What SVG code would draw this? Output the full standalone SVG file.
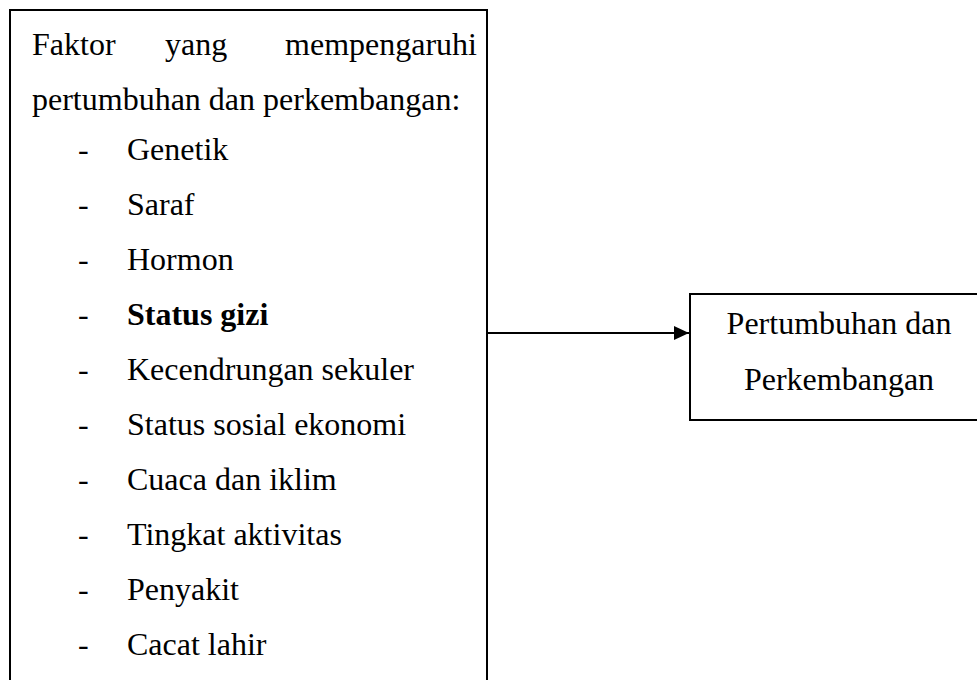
<svg xmlns="http://www.w3.org/2000/svg" width="977" height="680" viewBox="0 0 977 680">
<defs>
<style>
.box{fill:#fff;stroke:#000;stroke-width:2}
.t{font-family:"Liberation Serif","Times New Roman",serif;font-size:32px;fill:#000}
.b{font-weight:bold}
.e{stroke:#000;stroke-width:2;fill:none}
</style>
<marker id="arr" markerWidth="16" markerHeight="14" refX="15" refY="7" orient="auto" markerUnits="userSpaceOnUse">
<path d="M0,0 L15,7 L0,14 Z" fill="#000"/>
</marker>
</defs>
<g id="factors">
<rect class="box" x="10" y="10" width="477" height="690"/>
<text class="t" x="32" y="55">Faktor</text>
<text class="t" x="165" y="55">yang</text>
<text class="t" x="477" y="55" text-anchor="end">mempengaruhi</text>
<text class="t" x="32" y="110">pertumbuhan dan perkembangan:</text>
<text class="t" x="78" y="160">-</text><text class="t" x="127" y="160">Genetik</text>
<text class="t" x="78" y="215">-</text><text class="t" x="127" y="215">Saraf</text>
<text class="t" x="78" y="270">-</text><text class="t" x="127" y="270">Hormon</text>
<text class="t" x="78" y="325">-</text><text class="t b" x="127" y="325">Status gizi</text>
<text class="t" x="78" y="380">-</text><text class="t" x="127" y="380">Kecendrungan sekuler</text>
<text class="t" x="78" y="435">-</text><text class="t" x="127" y="435">Status sosial ekonomi</text>
<text class="t" x="78" y="490">-</text><text class="t" x="127" y="490">Cuaca dan iklim</text>
<text class="t" x="78" y="545">-</text><text class="t" x="127" y="545">Tingkat aktivitas</text>
<text class="t" x="78" y="600">-</text><text class="t" x="127" y="600">Penyakit</text>
<text class="t" x="78" y="655">-</text><text class="t" x="127" y="655">Cacat lahir</text>
</g>
<g id="outcome">
<rect class="box" x="690" y="294" width="300" height="126"/>
<text class="t" x="839" y="334" text-anchor="middle">Pertumbuhan dan</text>
<text class="t" x="839" y="390" text-anchor="middle">Perkembangan</text>
</g>
<g id="connectors">
<line class="e" x1="487" y1="333" x2="689" y2="333" marker-end="url(#arr)"/>
</g>
</svg>
